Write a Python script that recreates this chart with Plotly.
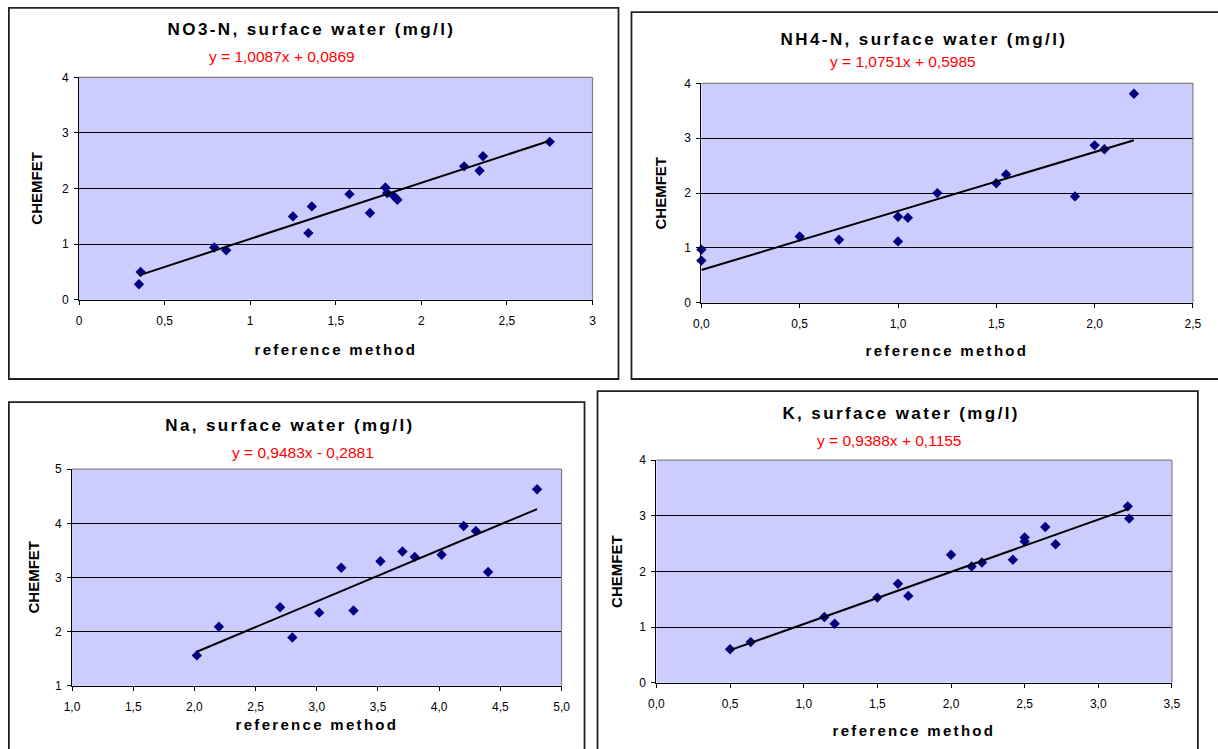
import plotly.graph_objects as go

W, H = 1218, 749
# the page is photographed with the browser's 8px body margin and scaled into the
# 1218x749 picture; page positions are converted accordingly
SX, SY = 1234 / 1218, 765 / 749
OFF = 8

# ---------------- data ----------------
no3_ref = [0.35, 0.36, 0.79, 0.86, 1.25, 1.34, 1.36, 1.58, 1.70, 1.79, 1.80, 1.84, 1.86, 2.25, 2.34, 2.36, 2.75]
no3_chem = [0.28, 0.50, 0.94, 0.89, 1.50, 1.20, 1.68, 1.90, 1.56, 2.02, 1.92, 1.86, 1.80, 2.40, 2.32, 2.58, 2.84]
no3_fit = [1.0087, 0.0869]

nh4_ref = [0.0, 0.0, 0.50, 0.70, 1.00, 1.00, 1.05, 1.20, 1.50, 1.55, 1.90, 2.00, 2.05, 2.20]
nh4_chem = [0.97, 0.77, 1.21, 1.15, 1.57, 1.12, 1.55, 2.00, 2.18, 2.34, 1.94, 2.87, 2.80, 3.81]
nh4_fit = [1.0751, 0.5985]

na_ref = [2.02, 2.20, 2.70, 2.80, 3.02, 3.20, 3.30, 3.52, 3.70, 3.80, 4.02, 4.20, 4.30, 4.40, 4.80]
na_chem = [1.56, 2.09, 2.45, 1.89, 2.35, 3.18, 2.39, 3.30, 3.48, 3.38, 3.42, 3.95, 3.86, 3.10, 4.63]
na_fit = [0.9483, -0.2881]

k_ref = [0.50, 0.64, 1.14, 1.21, 1.50, 1.64, 1.71, 2.00, 2.14, 2.21, 2.42, 2.50, 2.50, 2.64, 2.71, 3.20, 3.21]
k_chem = [0.60, 0.73, 1.18, 1.06, 1.53, 1.78, 1.56, 2.30, 2.09, 2.16, 2.21, 2.61, 2.54, 2.80, 2.49, 3.17, 2.95]
k_fit = [0.9388, 0.1155]

titles = ["NO3-N, surface water (mg/l)", "NH4-N, surface water (mg/l)",
          "Na, surface water (mg/l)", "K, surface water (mg/l)"]
equations = ["y = 1,0087x + 0,0869", "y = 1,0751x + 0,5985",
             "y = 0,9483x - 0,2881", "y = 0,9388x + 0,1155"]
y_title = "CHEMFET"
x_title = "reference method"

no3_xticks = [0, 0.5, 1, 1.5, 2, 2.5, 3]
no3_xlabels = ["0", "0,5", "1", "1,5", "2", "2,5", "3"]
nh4_xticks = [0, 0.5, 1, 1.5, 2, 2.5]
nh4_xlabels = ["0,0", "0,5", "1,0", "1,5", "2,0", "2,5"]
na_xticks = [1, 1.5, 2, 2.5, 3, 3.5, 4, 4.5, 5]
na_xlabels = ["1,0", "1,5", "2,0", "2,5", "3,0", "3,5", "4,0", "4,5", "5,0"]
k_xticks = [0, 0.5, 1, 1.5, 2, 2.5, 3, 3.5]
k_xlabels = ["0,0", "0,5", "1,0", "1,5", "2,0", "2,5", "3,0", "3,5"]
y04 = [0, 1, 2, 3, 4]
y15 = [1, 2, 3, 4, 5]

# ---------------- layout helpers (picture pixel -> paper) ----------------
def fx(x):
    return x * SX - OFF

def fy(y):
    return y * SY - OFF

def px(x):
    return fx(x) / W

def py(y):
    return 1 - fy(y) / H

def bpx(x):
    return max(fx(x), 0.9) / W

def bpy(y):
    return 1 - max(fy(y), 0.9) / H

FONT = "Liberation Sans, Arial, sans-serif"

panels = [
    dict(ref=no3_ref, chem=no3_chem, fit=no3_fit, xt=no3_xticks, xl=no3_xlabels, yt=y04,
         xr=[0, 3], yr=[0, 4], plot=(79, 78, 593, 300), box=(8, 5, 619, 379),
         title_xy=(312, 30), eq_xy=(282, 57), ytitle_x=37, xtitle_y=350),
    dict(ref=nh4_ref, chem=nh4_chem, fit=nh4_fit, xt=nh4_xticks, xl=nh4_xlabels, yt=y04,
         xr=[0, 2.5], yr=[0, 4], plot=(702, 84, 1194, 303), box=(632, 13, 1240, 379),
         title_xy=(925, 40), eq_xy=(904, 62), ytitle_x=661, xtitle_y=351),
    dict(ref=na_ref, chem=na_chem, fit=na_fit, xt=na_xticks, xl=na_xlabels, yt=y15,
         xr=[1, 5], yr=[1, 5], plot=(72, 469, 562, 685), box=(8, 402, 585, 770),
         title_xy=(290, 425), eq_xy=(303, 452), ytitle_x=33, xtitle_y=724),
    dict(ref=k_ref, chem=k_chem, fit=k_fit, xt=k_xticks, xl=k_xlabels, yt=y04,
         xr=[0, 3.5], yr=[0, 4], plot=(657, 460, 1173, 682), box=(598, 391, 1199, 770),
         title_xy=(902, 413), eq_xy=(890, 440), ytitle_x=617, xtitle_y=730),
]

fig = go.Figure()
shapes = []
annotations = []
layout = {}

for i, p in enumerate(panels):
    n = "" if i == 0 else str(i + 1)
    xa, ya = "x" + n, "y" + n
    x0, y0, x1, y1 = p["plot"]

    layout["xaxis" + n] = dict(
        domain=[px(x0), px(x1)], anchor=ya, range=p["xr"], tickmode="array",
        tickvals=p["xt"], ticktext=p["xl"], ticks="outside", ticklen=4, tickcolor="black",
        showline=True, linecolor="black", linewidth=1, showgrid=False, zeroline=False,
        tickfont=dict(family=FONT, size=12, color="black"), ticklabelstandoff=6,
    )
    layout["yaxis" + n] = dict(
        domain=[py(y1), py(y0)], anchor=xa, range=p["yr"], tickmode="array",
        tickvals=p["yt"], ticktext=[str(v) for v in p["yt"]], ticks="outside", ticklen=4,
        tickcolor="black", showline=True, linecolor="black", linewidth=1,
        showgrid=True, gridcolor="black", gridwidth=1, zeroline=False,
        tickfont=dict(family=FONT, size=12, color="black"), ticklabelstandoff=3,
    )

    shapes.append(dict(type="rect", xref="paper", yref="paper", x0=px(x0), x1=px(x1),
                       y0=py(y1), y1=py(y0), fillcolor="#CCCCFF", line=dict(width=0),
                       layer="below"))
    shapes.append(dict(type="line", xref="paper", yref="paper", x0=px(x0), x1=px(x1),
                       y0=py(y0), y1=py(y0), line=dict(color="#808080", width=1.2)))
    shapes.append(dict(type="line", xref="paper", yref="paper", x0=px(x1), x1=px(x1),
                       y0=py(y0), y1=py(y1), line=dict(color="#808080", width=1.2)))
    bx0, by0, bx1, by1 = p["box"]
    shapes.append(dict(type="rect", xref="paper", yref="paper", x0=bpx(bx0), x1=bpx(bx1),
                       y0=bpy(by1), y1=bpy(by0), line=dict(color="#222222", width=1.8),
                       layer="below"))

    fig.add_trace(go.Scatter(x=p["ref"], y=p["chem"], mode="markers", xaxis=xa, yaxis=ya,
                             marker=dict(symbol="diamond", size=8, color="#000080",
                                         line=dict(width=0)),
                             cliponaxis=False, showlegend=False))
    a, b = p["fit"]
    xs = [min(p["ref"]), max(p["ref"])]
    fig.add_trace(go.Scatter(x=xs, y=[a * v + b for v in xs], mode="lines", xaxis=xa,
                             yaxis=ya, line=dict(color="black", width=2),
                             cliponaxis=False, showlegend=False))

    common = dict(xref="paper", yref="paper", showarrow=False,
                  xanchor="center", yanchor="middle")
    tx, ty = p["title_xy"]
    annotations.append(dict(text="<b>" + titles[i] + "</b>", x=px(tx), y=py(ty),
                            font=dict(family=FONT, size=17, color="black"), **common))
    ex, ey = p["eq_xy"]
    annotations.append(dict(text=equations[i], x=px(ex), y=py(ey),
                            font=dict(family=FONT, size=15.5, color="#FF0000"), **common))
    annotations.append(dict(text="<b>" + y_title + "</b>", x=px(p["ytitle_x"]),
                            y=py((y0 + y1) / 2), textangle=-90,
                            font=dict(family=FONT, size=15, color="black"), **common))
    annotations.append(dict(text="<b>" + x_title + "</b>", x=px((x0 + x1) / 2),
                            y=py(p["xtitle_y"]),
                            font=dict(family=FONT, size=15, color="black"), **common))

fig.update_layout(width=W, height=H, margin=dict(l=0, r=0, t=0, b=0),
                  paper_bgcolor="white", plot_bgcolor="rgba(0,0,0,0)",
                  shapes=shapes, annotations=annotations, **layout)

post = """
var gd = document.getElementById('{plot_id}');
function spaceText() {
  document.querySelectorAll('.annotation-text').forEach(function (el) {
    var t = el.textContent;
    if (t.indexOf('surface water') >= 0) { el.style.letterSpacing = '2.4px'; }
    else if (t === 'reference method') { el.style.letterSpacing = '2.3px'; }
  });
}
spaceText();
if (gd && gd.on) { gd.on('plotly_afterplot', spaceText); }
"""

fig.write_html("out.html", post_script=post)
